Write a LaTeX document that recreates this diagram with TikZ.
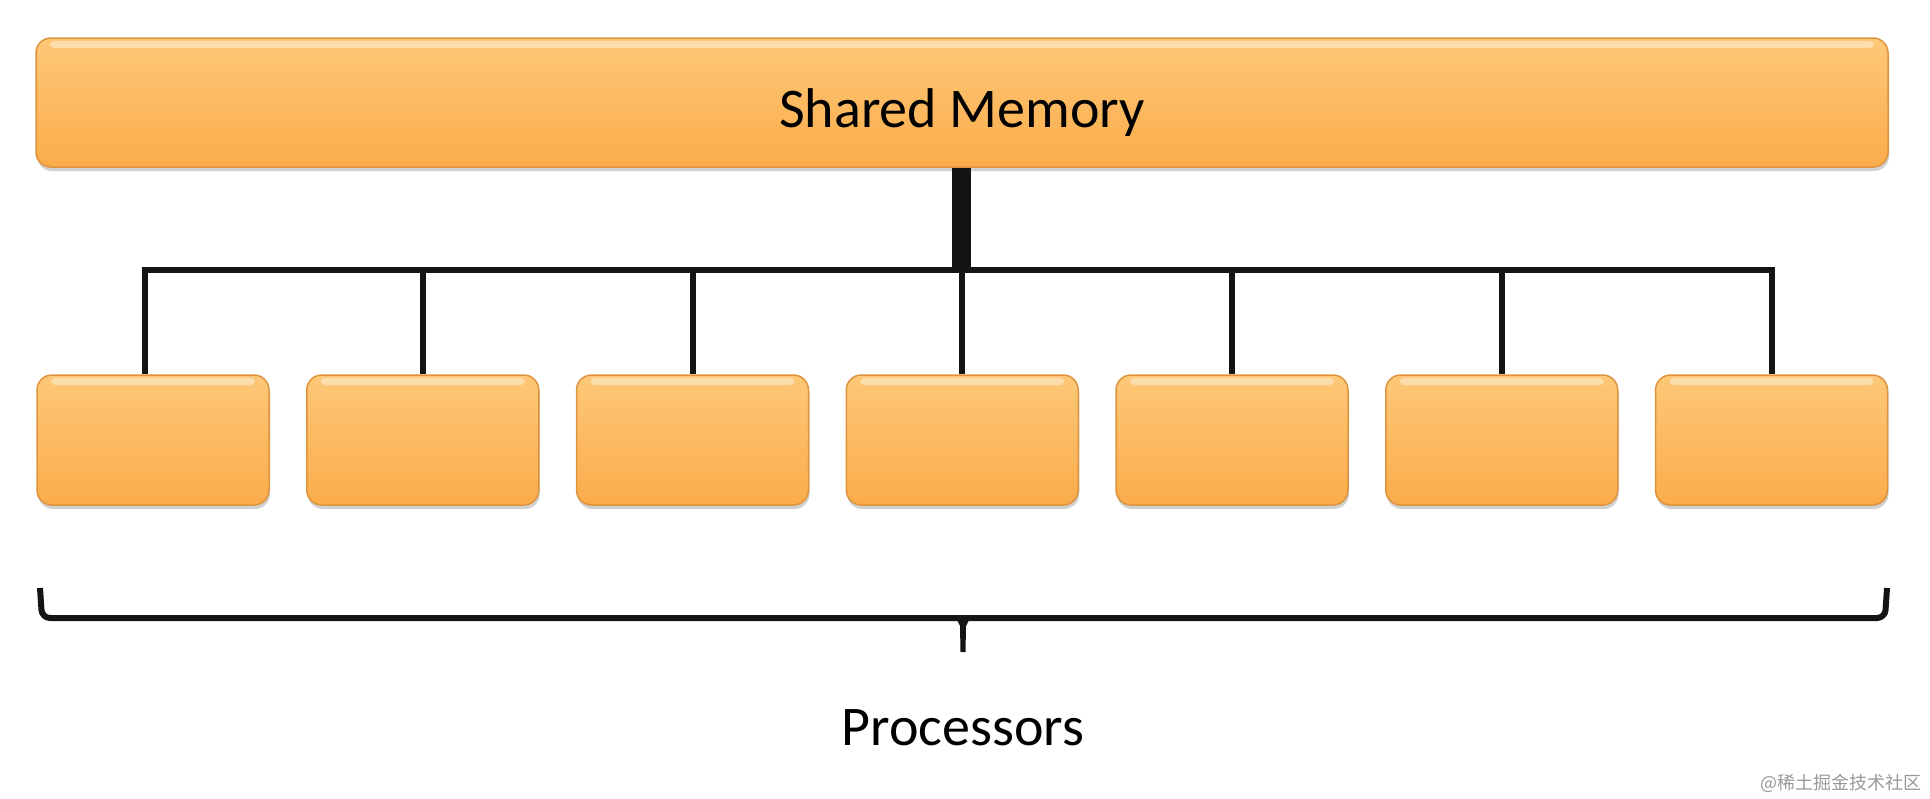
\documentclass[tikz,border=0pt]{standalone}
\usepackage{fontspec}
\setmainfont{Carlito}
\newfontfamily\cjk{Noto Sans CJK SC}
\usetikzlibrary{shadows}
\definecolor{otop}{RGB}{253,200,120}
\definecolor{obot}{RGB}{251,172,74}
\definecolor{oedge}{RGB}{222,148,62}
\begin{document}
\begin{tikzpicture}[x=1pt,y=-1pt,
  orangebox/.style={rounded corners=15pt, draw=oedge, line width=1.5pt,
    top color=otop, bottom color=obot, inner sep=0pt,
    drop shadow={shadow xshift=1pt, shadow yshift=-4pt, fill=black!40, opacity=0.45},
    path picture={\fill[white,opacity=0.4,rounded corners=4pt]
      ([xshift=14pt,yshift=-3pt]path picture bounding box.north west) rectangle
      ([xshift=-14pt,yshift=-10pt]path picture bounding box.north east);}},
  membox/.style={orangebox, minimum width=1852pt, minimum height=129pt},
  procbox/.style={orangebox, minimum width=232pt, minimum height=130pt},
  bigtext/.style={font=\fontsize{56}{66}\selectfont, text=black},
  wire/.style={line width=6pt, draw=black!92},
  bracestyle/.style={line width=6pt, draw=black!92, rounded corners=8pt}
]
\useasboundingbox (0,0) rectangle (1930,798);
\fill[white] (0,0) rectangle (1930,798);

% shared memory
\node[membox, bigtext, text height=49pt, text depth=0pt] (mem) at (962,102.5) {Shared Memory};

% processors
\foreach \i in {1,...,7}{
  \node[procbox] (p\i) at ({153+269.75*(\i-1)},440) {};
}

% bus
\coordinate (bus) at (961.5,270);
\coordinate (busl) at (145,270);
\coordinate (busr) at (p7.north |- bus);
\draw[line width=19pt, draw=black!92] (mem.south -| bus) -- ([yshift=-3pt]bus);
\draw[wire, line cap=rect] (busl) -- (busr);
\draw[wire] (busl) -- (busl |- p1.north);
\foreach \i in {2,...,7}{
  \draw[wire] (p\i.north |- bus) -- (p\i.north);
}

% brace
\coordinate (bl) at (40,588);
\coordinate (br) at (1887,588);
\coordinate (bm) at (963,618);
\draw[bracestyle] (bl) -- (42,618) -- (1885,618) -- (br);
\fill[black!92] (955,616) -- (971,616) -- (966,626) -- (965.5,652) -- (960.5,652) -- (960,626) -- cycle;

\node[bigtext, anchor=base] (proc) at (963,745) {Processors};

% watermark
\node[anchor=east, text=black!40, font=\cjk\fontsize{18}{20}\selectfont, inner sep=0pt] (wm) at (1922,783) {@稀土掘金技术社区};
\end{tikzpicture}
\end{document}
